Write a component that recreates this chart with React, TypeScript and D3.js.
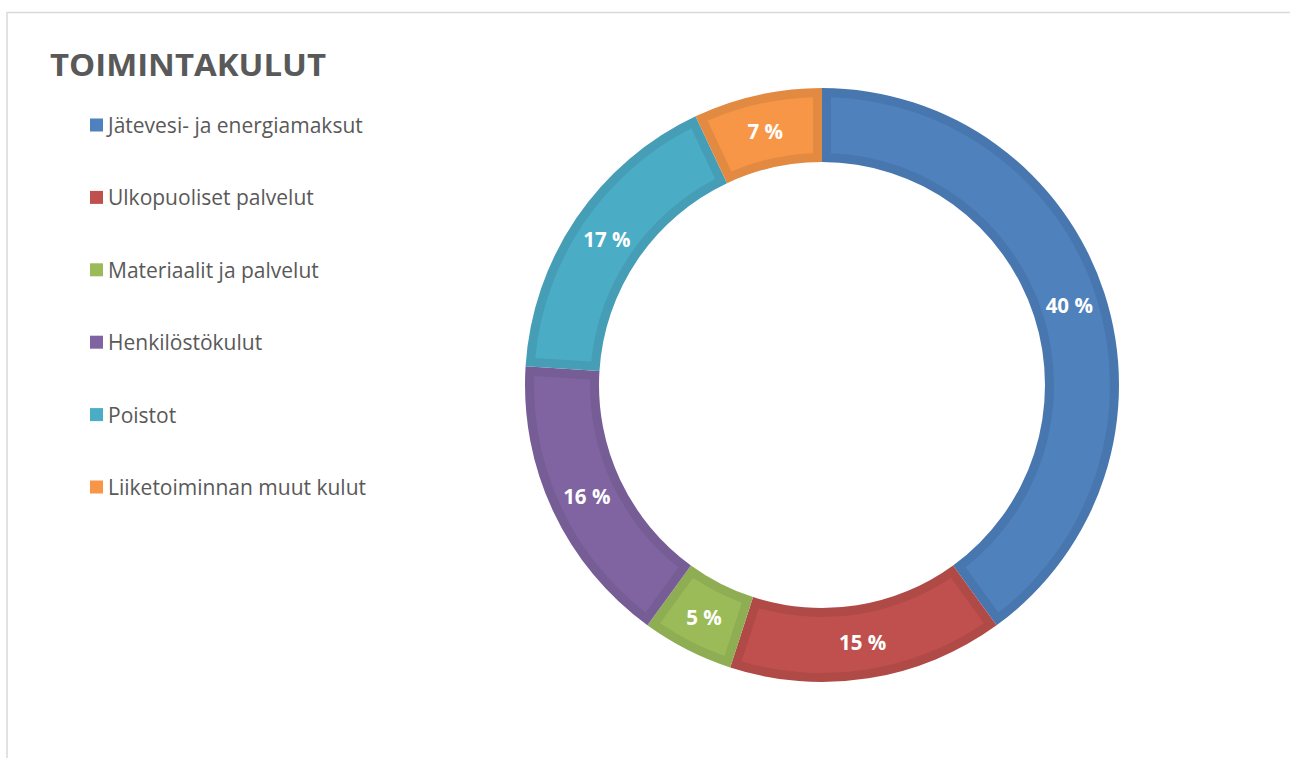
import { useMemo } from 'react'
import * as d3 from 'd3'

const WIDTH = 1290
const HEIGHT = 758
const CENTER = { x: 822, y: 385 }
const OUTER_R = 297
const INNER_R = 223
const BORDER = 9

const CATEGORIES = [
  'Jätevesi- ja energiamaksut',
  'Ulkopuoliset palvelut',
  'Materiaalit ja palvelut',
  'Henkilöstökulut',
  'Poistot',
  'Liiketoiminnan muut kulut',
]
const SHARES = [40, 15, 5, 16, 17, 7]
const FILLS = ['#4F81BD', '#C0504D', '#9BBB59', '#8064A2', '#4BACC6', '#F79646']
const EDGES = ['#4877AF', '#B04A47', '#8FAD52', '#765D95', '#459EB6', '#E28A41']

const FONT = '"Open Sans", "Noto Sans", sans-serif'

export default function App() {
  const slices = useMemo(() => {
    return d3.pie<number>().sort(null).value(d => d)(SHARES)
  }, [])

  const outerArc = d3.arc<d3.PieArcDatum<number>>()
    .innerRadius(INNER_R)
    .outerRadius(OUTER_R)

  // lighter inset, leaves a darker rim of constant width
  const innerArc = d3.arc<d3.PieArcDatum<number>>()
    .innerRadius(INNER_R + BORDER)
    .outerRadius(OUTER_R - BORDER)
    .padRadius(OUTER_R)
    .padAngle((BORDER * 2) / OUTER_R)

  const legendY = d3.scaleLinear().domain([0, CATEGORIES.length - 1]).range([125, 487])

  return (
    <svg
      width={WIDTH}
      height={HEIGHT}
      style={{ position: 'absolute', left: 0, top: 0, fontFamily: FONT }}
    >
      <rect x={0} y={0} width={WIDTH} height={HEIGHT} fill="#fff" />
      <rect x={7} y={12.5} width={WIDTH + 10} height={HEIGHT + 10} fill="none" stroke="#d9d9d9" strokeWidth={1.5} />

      <text x={50} y={76} fontSize={31} fontWeight={700} fill="#595959" textLength={276} lengthAdjust="spacingAndGlyphs">
        TOIMINTAKULUT
      </text>

      {CATEGORIES.map((name, i) => (
        <g key={name} transform={`translate(90, ${legendY(i)})`}>
          <rect x={0} y={-6.5} width={13} height={13} fill={FILLS[i]} />
          <text x={18} y={0} dominantBaseline="central" fontSize={21} fill="#595959">
            {name}
          </text>
        </g>
      ))}

      <g transform={`translate(${CENTER.x}, ${CENTER.y})`}>
        {slices.map((s, i) => (
          <g key={CATEGORIES[i]}>
            <path d={outerArc(s) || ''} fill={EDGES[i]} />
            <path d={innerArc(s) || ''} fill={FILLS[i]} />
          </g>
        ))}
        {slices.map((s, i) => {
          const [cx, cy] = outerArc.centroid(s)
          return (
            <text
              key={`lbl-${i}`}
              x={cx}
              y={cy}
              textAnchor="middle"
              dominantBaseline="central"
              fontSize={20.5}
              fontWeight={700}
              fill="#fff"
            >
              {`${SHARES[i]} %`}
            </text>
          )
        })}
      </g>
    </svg>
  )
}
